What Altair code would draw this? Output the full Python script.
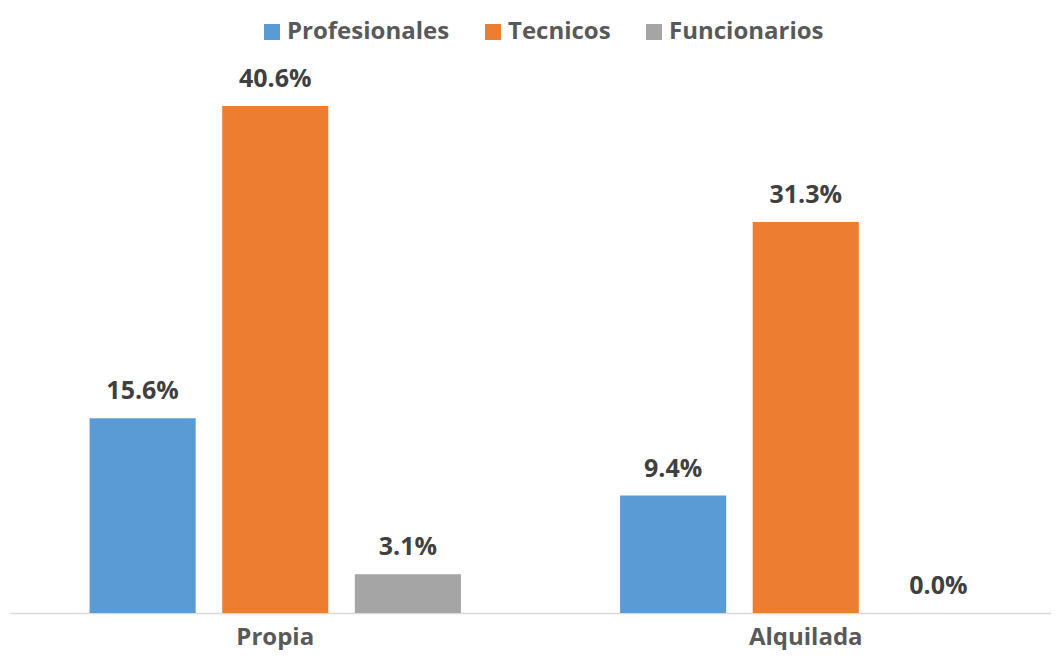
import altair as alt
import pandas as pd

categories = ["Propia", "Alquilada"]
series = ["Profesionales", "Tecnicos", "Funcionarios"]
colors = ["#5B9BD5", "#ED7D31", "#A5A5A5"]
values = {
    "Profesionales": [0.156, 0.094],
    "Tecnicos": [0.406, 0.313],
    "Funcionarios": [0.031, 0.000],
}

rows = []
for s in series:
    for c, v in zip(categories, values[s]):
        rows.append({"cat": c, "serie": s, "v": v})
df = pd.DataFrame(rows)

FONT = "Open Sans"

x_enc = alt.X("cat:N", sort=categories, title=None,
              scale=alt.Scale(range=[0, 1061], paddingInner=0.3, paddingOuter=0.15),
              axis=alt.Axis(labelAngle=0, ticks=False, domainColor="#D9D9D9", domainWidth=1.5,
                            labelFont=FONT, labelFontSize=24, labelFontWeight="bold",
                            labelColor="#595959", labelPadding=12))
xo_enc = alt.XOffset("serie:N", sort=series,
                     scale=alt.Scale(paddingInner=0.2, paddingOuter=0))
y_enc = alt.Y("v:Q", axis=None, scale=alt.Scale(domain=[0, 0.45], nice=False))

bars = alt.Chart(df).mark_bar().encode(
    x=x_enc, xOffset=xo_enc, y=y_enc,
    color=alt.Color("serie:N", sort=series, title=None,
                    scale=alt.Scale(domain=series, range=colors),
                    legend=alt.Legend(orient="none", legendX=250, legendY=-31,
                                      direction="horizontal", symbolType="square",
                                      symbolSize=256, symbolStrokeWidth=0, labelLimit=400,
                                      labelFont=FONT, labelFontSize=24, labelFontWeight="bold",
                                      labelColor="#595959", labelOffset=3, columnPadding=31)),
)

labels = alt.Chart(df).mark_text(baseline="bottom", dy=-14, font=FONT, fontSize=25,
                                 fontWeight="bold", color="#404040").encode(
    x=alt.X("cat:N", sort=categories), xOffset=alt.XOffset("serie:N", sort=series),
    y="v:Q", text=alt.Text("v:Q", format=".1%"),
)

chart = alt.layer(bars, labels).properties(
    width=1041, height=562,
    autosize=alt.AutoSizeParams(type="none"),
    padding={"left": 2, "top": 43, "right": 0, "bottom": 37},
).configure_view(stroke=None)

chart.save("out.html", embed_options={"renderer": "svg", "actions": False})
